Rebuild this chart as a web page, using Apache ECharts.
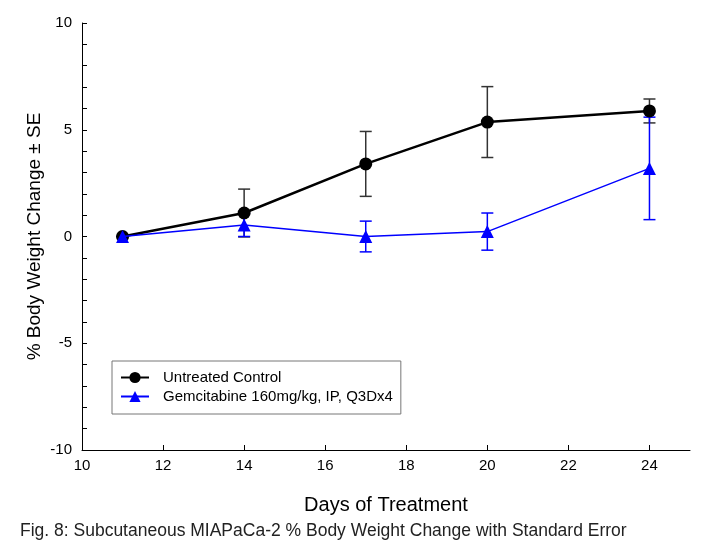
<!DOCTYPE html>
<html>
<head>
<meta charset="utf-8">
<script src="https://cdn.jsdelivr.net/npm/echarts@6/dist/echarts.min.js"></script>
<style>
html,body{margin:0;padding:0;background:#fff;}
#chart{width:723px;height:553px;}
</style>
</head>
<body>
<div id="chart"></div>
<script>
var days = [11, 14, 17, 20, 24];
var controlMean = [0, 1.1, 3.4, 5.36, 5.88];
var controlSE = [0, 1.12, 1.52, 1.66, 0.56];
var gemMean = [0, 0.54, 0, 0.23, 3.19];
var gemSE = [0, 0.54, 0.72, 0.87, 2.4];
var xTicks = [10, 12, 14, 16, 18, 20, 22, 24];
var yTicks = [-10, -5, 0, 5, 10];
var seriesNames = ['Untreated Control', 'Gemcitabine 160mg/kg, IP, Q3Dx4'];
var captionText = 'Fig. 8: Subcutaneous MIAPaCa-2 % Body Weight Change with Standard Error';

var FONT = '"Liberation Sans", Arial, sans-serif';

function pairs(xs, ys) { return xs.map(function (x, i) { return [x, ys[i]]; }); }
function errData(xs, m, se) { return xs.map(function (x, i) { return [x, m[i] - se[i], m[i] + se[i]]; }); }

function errRender(color) {
  return function (params, api) {
    var x = api.value(0);
    var lo = api.coord([x, api.value(1)]);
    var hi = api.coord([x, api.value(2)]);
    var hw = 6;
    var st = { stroke: color, lineWidth: 1.5 };
    return {
      type: 'group',
      children: [
        { type: 'line', shape: { x1: lo[0], y1: lo[1], x2: hi[0], y2: hi[1] }, style: st },
        { type: 'line', shape: { x1: lo[0] - hw, y1: lo[1], x2: lo[0] + hw, y2: lo[1] }, style: st },
        { type: 'line', shape: { x1: hi[0] - hw, y1: hi[1], x2: hi[0] + hw, y2: hi[1] }, style: st }
      ]
    };
  };
}

var chart = echarts.init(document.getElementById('chart'), null, { renderer: 'canvas' });
chart.setOption({
  backgroundColor: '#fff',
  animation: false,
  textStyle: { fontFamily: FONT },
  grid: { left: 82, right: 33, top: 23, bottom: 103 },
  legend: {
    orient: 'vertical',
    left: 112, top: 361,
    data: seriesNames,
    borderColor: '#777', borderWidth: 1,
    padding: [9, 8, 10, 8],
    itemWidth: 28, itemHeight: 14, itemGap: 4,
    textStyle: { fontFamily: FONT, fontSize: 15, color: '#000', padding: [0, 0, 0, 9] }
  },
  xAxis: {
    type: 'value', min: 10, max: 25,
    name: 'Days of Treatment', nameLocation: 'middle', nameGap: 45,
    nameMoveOverlap: false,
    nameTextStyle: { fontFamily: FONT, fontSize: 20, color: '#000' },
    axisLine: { onZero: false, lineStyle: { color: '#000', width: 1 } },
    axisTick: { inside: true, length: 5, lineStyle: { color: '#000' }, customValues: xTicks },
    axisLabel: { fontFamily: FONT, fontSize: 15, color: '#000', margin: 8, customValues: xTicks },
    splitLine: { show: false }
  },
  yAxis: {
    type: 'value', min: -10, max: 10, interval: 5,
    name: '% Body Weight Change \u00B1 SE', nameLocation: 'middle', nameGap: 38,
    nameMoveOverlap: false,
    nameTextStyle: { fontFamily: FONT, fontSize: 19, color: '#000' },
    axisLine: { show: true, lineStyle: { color: '#000', width: 1 } },
    axisTick: { inside: true, length: 5, lineStyle: { color: '#000' }, customValues: yTicks },
    minorTick: { show: true, splitNumber: 5, length: 5, lineStyle: { color: '#000' } },
    axisLabel: { fontFamily: FONT, fontSize: 15, color: '#000', margin: 10, customValues: yTicks },
    splitLine: { show: false }
  },
  graphic: [{
    type: 'text', left: 20, top: 522,
    style: { text: captionText, fontFamily: FONT, fontSize: 17.5, fill: '#222' }
  }],
  series: [
    {
      type: 'custom', name: 'ctrlErr', renderItem: errRender('#333'),
      data: errData(days, controlMean, controlSE), z: 1, silent: true,
      encode: { x: 0, y: [1, 2] }
    },
    {
      type: 'custom', name: 'gemErr', renderItem: errRender('#0000ff'),
      data: errData(days, gemMean, gemSE), z: 1, silent: true,
      encode: { x: 0, y: [1, 2] }
    },
    {
      type: 'line', name: seriesNames[0], data: pairs(days, controlMean),
      symbol: 'circle', symbolSize: 13,
      itemStyle: { color: '#000' }, lineStyle: { color: '#000', width: 2.5 }, z: 3
    },
    {
      type: 'line', name: seriesNames[1], data: pairs(days, gemMean),
      symbol: 'triangle', symbolSize: 13,
      itemStyle: { color: '#0000ff' }, lineStyle: { color: '#0000ff', width: 1.5 }, z: 4
    }
  ]
});
</script>
</body>
</html>
